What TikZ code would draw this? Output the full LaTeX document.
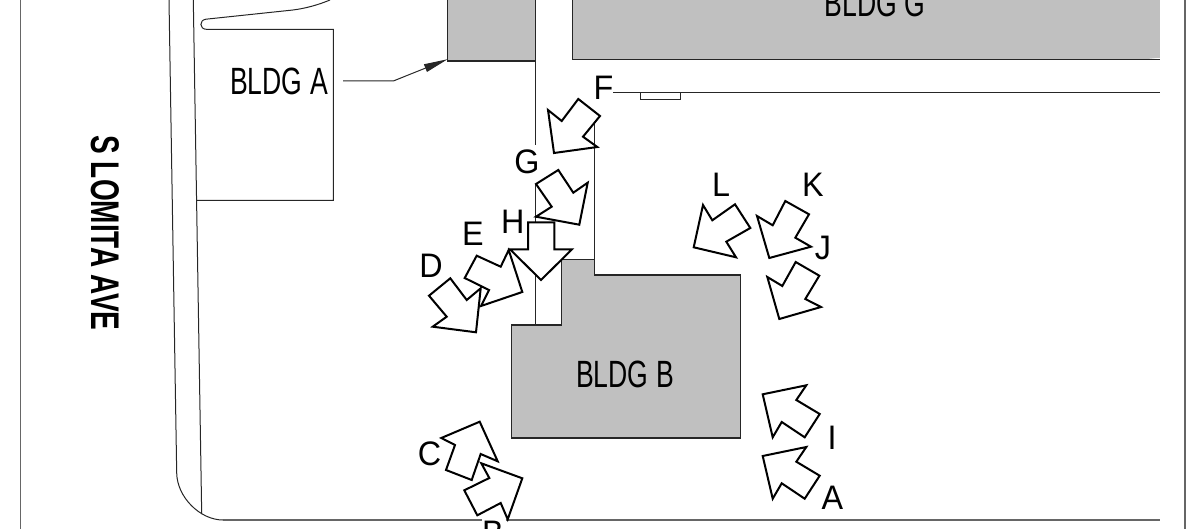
\documentclass[tikz,border=0pt]{standalone}
\usepackage{fontspec}
\setmainfont{Liberation Sans}
\newfontfamily\letterfont[FakeStretch=0.95]{Liberation Sans}
\newfontfamily\bldgfont[FakeStretch=0.70]{Liberation Sans}
\newfontfamily\roadfont[FakeStretch=0.70]{Liberation Sans Bold}
\usetikzlibrary{arrows.meta}
\definecolor{bldggray}{HTML}{C0C0C0}
\tikzset{
  viewarrow/.style={draw=black,fill=white,line width=2pt,line join=miter,miter limit=10},
  building/.style={draw=black!85,fill=bldggray,line width=1.3pt},
  thinline/.style={draw=black!85,line width=1pt},
  frameline/.style={draw=black!60,line width=1.5pt},
  viewlabel/.style={anchor=base,inner sep=0pt,font=\letterfont\fontsize{34}{38}\selectfont},
  bldglabel/.style={anchor=base,inner sep=0pt,font=\bldgfont\fontsize{38}{42}\selectfont},
}
\begin{document}
\begin{tikzpicture}[x=1pt,y=-1pt]
\useasboundingbox (0,0) rectangle (1196,529);
% frame
\draw[frameline] (20.7,0) -- (20.7,529);
\draw[frameline] (1185,0) -- (1185,529);
\draw[frameline] (223,520) -- (481.7,520);
\draw[frameline] (505.7,520) -- (1159.5,520);
% road
\draw[thinline] (169,0) -- (176.7,473) .. controls (177,497) and (200,520) .. (223,520);
\draw[thinline] (193.3,0) -- (201.7,514);
% island and building A outline
\draw[thinline] (330,0) .. controls (318,5) and (305,8.5) .. (293,10) -- (206,19.2)
  .. controls (199,20) and (199,29.4) .. (207,29.4) -- (333.3,29.4) -- (333.3,200.3) -- (197,200.3);
% buildings
\draw[building] (447.7,-3) -- (447.7,61) -- (535.3,61) -- (535.3,-3);
\draw[building] (572.7,-3) -- (572.7,59.3) -- (1159.5,59.3);
\fill[bldggray] (572.7,-3) rectangle (1159.5,58.5);
\draw[building] (561.7,259.3) -- (594.3,259.3) -- (594.3,275) -- (740.3,275) -- (740.3,438) -- (511.5,438) -- (511.5,325) -- (561.7,325) -- cycle;
% walkways
\draw[thinline] (535.5,61) -- (535.5,145.5);
\draw[thinline] (535.7,184) -- (535.7,325);
\draw[thinline] (594.3,123) -- (594.3,259.3);
\draw[thinline] (613,92.3) -- (1159.5,92.3);
\draw[thinline,fill=white] (640.7,92.3) rectangle (680,100);
% leader
\coordinate (leaderstart) at (343,81);
\coordinate (leaderbend) at (393.3,81);
\coordinate (leaderend) at (447.7,59.2);
\draw[thinline,-{Triangle[length=24pt,width=8pt]}] (leaderstart) -- (leaderbend) -- (leaderend);
% view arrows
\draw[viewarrow] (578.3,99) -- (600,116) -- (583,136.7) -- (597.3,147) -- (554,153) -- (548,110) -- (561.7,121) -- cycle;
\draw[viewarrow] (558.3,170) -- (573.3,192.7) -- (587.7,182.7) -- (579.3,224.7) -- (536,216.7) -- (551.7,206.7) -- (536,184) -- cycle;
\draw[viewarrow] (528,222.3) -- (554.3,222.3) -- (554.3,249.3) -- (572,249.3) -- (541,280) -- (510,249.3) -- (528,249.3) -- cycle;
\draw[viewarrow] (476.7,255.7) -- (500.7,266.7) -- (508.7,250) -- (522.3,292) -- (481,306) -- (489,290) -- (464.7,278) -- cycle;
\draw[viewarrow] (450.3,278.3) -- (466.7,300) -- (480.7,288.3) -- (476,332.3) -- (432.7,326.7) -- (446.7,316.7) -- (429,295.7) -- cycle;
\draw[viewarrow] (735,204.3) -- (750.3,228) -- (726.3,241.7) -- (736,257.3) -- (693.7,247.3) -- (703,205) -- (712.3,220.3) -- cycle;
\draw[viewarrow] (785.3,201) -- (809,214.3) -- (795.3,237.7) -- (811,246.7) -- (769.3,258) -- (757,216) -- (772.7,225.3) -- cycle;
\draw[viewarrow] (795.7,262) -- (819.3,275.7) -- (805.3,299) -- (821,307) -- (779.3,319) -- (767.3,277) -- (782.3,286) -- cycle;
\draw[viewarrow] (479.7,421.7) -- (497.7,461.3) -- (480.7,454) -- (471.7,480) -- (446,470) -- (455,445) -- (441.3,438) -- cycle;
\draw[viewarrow] (481.3,463.3) -- (522.3,478.3) -- (507.7,519.3) -- (500.7,503) -- (477.3,515.3) -- (464.3,490.3) -- (489.3,478) -- cycle;
\draw[viewarrow] (806.3,385.3) -- (796.3,400) -- (819.7,414) -- (804.7,437.3) -- (781.7,422) -- (772.7,437.3) -- (762.7,394.3) -- cycle;
\draw[viewarrow] (806.3,447) -- (796.3,461.7) -- (819.7,475.7) -- (804.7,498.7) -- (781.7,483.3) -- (772.7,498.7) -- (762.7,456) -- cycle;
% labels
\node[viewlabel] (lF) at (603.5,100) {F};
\node[viewlabel] (lG) at (527,174) {G};
\node[viewlabel] (lH) at (512.7,234) {H};
\node[viewlabel] (lE) at (473,246) {E};
\node[viewlabel] (lD) at (431,277.3) {D};
\node[viewlabel] (lL) at (721,197) {L};
\node[viewlabel] (lK) at (813,197) {K};
\node[viewlabel] (lJ) at (823,260) {J};
\node[viewlabel] (lI) at (832,449) {I};
\node[viewlabel] (lA) at (832.5,509.3) {A};
\node[viewlabel] (lC) at (429.5,465) {C};
\node[viewlabel] (lB) at (493,544) {B};
\node[bldglabel] (bA) at (279,95) {BLDG A};
\node[bldglabel] (bB) at (625,387) {BLDG B};
\node[bldglabel] (bG) at (875,17) {BLDG G};
\node[anchor=center,inner sep=0pt,rotate=-90,font=\roadfont\fontsize{40}{44}\selectfont] (road) at (105,233) {S LOMITA AVE};
\end{tikzpicture}
\end{document}
